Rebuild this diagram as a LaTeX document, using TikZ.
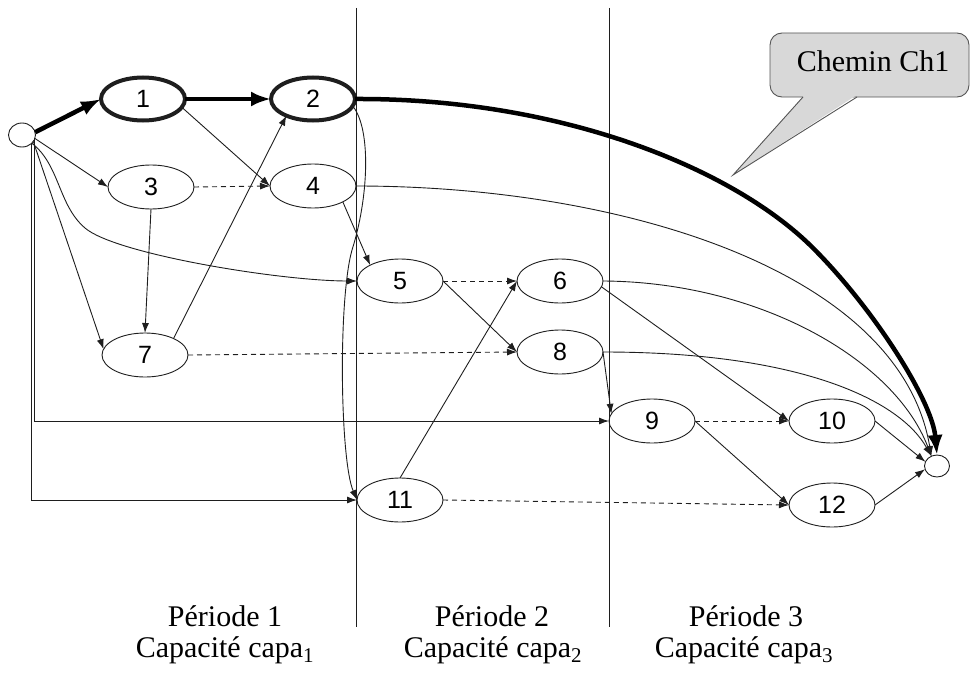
\documentclass[tikz,border=0pt]{standalone}
\usepackage{fontspec}
\setmainfont{Liberation Serif}
\newfontfamily\digitfont{Liberation Sans}
\usetikzlibrary{arrows.meta,shapes.geometric}
\definecolor{linec}{HTML}{1E1E1E}
\definecolor{callfill}{HTML}{D8D8D8}
\definecolor{callborder}{HTML}{555555}
\begin{document}
\begin{tikzpicture}[x=1pt,y=-1pt,
  every node/.style={inner sep=0pt, outer sep=0pt},
  ell/.style={draw=linec, ellipse, minimum width=86pt, minimum height=44pt, line width=0.9pt,
              font=\digitfont\fontsize{25}{25}\selectfont},
  thickell/.style={ell, line width=4pt, minimum width=84pt, minimum height=43pt},
  endpt/.style={draw=linec, ellipse, line width=0.9pt},
  arr/.style={draw=linec, line width=0.9pt, -{Latex[length=10pt,width=7pt]}},
  dsh/.style={arr, dash pattern=on 5pt off 4pt},
  thickarr/.style={draw=black, line width=4.5pt, -{Latex[length=20pt,width=15pt]}},
  lbl/.style={font=\fontsize{30}{36}\selectfont, anchor=base},
  sep/.style={draw=linec, line width=0.9pt}
]
\useasboundingbox (0,0) rectangle (972,677);

% period separators
\draw[sep] (356,8) -- (356,627);
\draw[sep] (609,8) -- (609,627);

% nodes
\node[endpt, minimum width=27pt, minimum height=24pt] (s) at (22,135) {};
\node[endpt, minimum width=25pt, minimum height=22pt] (t) at (937,466) {};
\node[thickell] (n1) at (143,99) {1};
\node[thickell] (n2) at (313,99) {2};
\node[ell] (n3) at (151,187) {3};
\node[ell] (n4) at (313,186) {4};
\node[ell] (n5) at (400,281) {5};
\node[ell] (n6) at (560,281) {6};
\node[ell] (n7) at (145,355) {7};
\node[ell] (n8) at (560,352) {8};
\node[ell] (n9) at (652,421) {9};
\node[ell] (n10) at (832,421) {10};
\node[ell] (n11) at (400,500) {11};
\node[ell] (n12) at (832,505) {12};

% connectors from the source
\draw[arr] (s.-15) -- (n3.west);
\draw[arr] (s.-30) -- (n7.172);
\draw[arr] (s.-40) .. controls (60,165) and (58,205) .. (85,228)
                   .. controls (115,254) and (280,281) .. (n5.west);
\draw[arr] (s.-15) |- (n9.west);
\draw[arr] (s.-45) |- (n11.west);

% period 1
\draw[arr] (n1.-12) -- (n4.west);
\draw[dsh] (n3.east) -- (n4.west);
\draw[arr] (n3.south) -- (n7.north);
\draw[arr] (n7.30) -- (n2.-148);
\draw[dsh] (n7.east) -- (n8.west);
\draw[arr] (n2.-10) .. controls (372,130) and (368,200) .. (352,250)
                    .. controls (338,300) and (340,460) .. (n11.west);
\draw[arr] (n4.-28) -- (n5.152);

% period 2
\draw[dsh] (n5.east) -- (n6.west);
\draw[arr] (n5.east) -- (n8.west);
\draw[arr] (n11.north) -- (n6.west);
\draw[dsh] (n11.east) -- (n12.west);

% period 3
\draw[arr] (n6.-8) -- (n10.west);
\draw[arr] (n8.east) -- (n9.170);
\draw[dsh] (n9.east) -- (n10.west);
\draw[arr] (n9.east) -- (n12.west);
\draw[arr] (n10.east) -- (t.160);
\draw[arr] (n12.east) -- (t.195);

% long arcs to the sink
\draw[arr] (n4.east) .. controls (620,186) and (900,270) .. (t.120);
\draw[arr] (n6.east) .. controls (760,282) and (895,360) .. (t.120);
\draw[arr] (n8.east) .. controls (800,352) and (900,400) .. (t.120);

% thick path Ch1
\draw[thickarr] (s.12) -- (n1.west);
\draw[thickarr] (n1.east) -- (n2.west);
\draw[thickarr] (n2.east) .. controls (560,98) and (733,168) .. (813,248)
                          .. controls (873,308) and (932,400) .. (t.north);

% callout
\draw[fill=callfill, draw=callborder, line width=0.9pt, rounded corners=12pt] (770,33) rectangle (969,97);
\fill[callfill] (804,95.5) -- (733,175) -- (856,95.5) -- cycle;
\draw[callborder, line width=0.9pt, line join=miter] (803,97) -- (733,175) -- (857,97);
\node[lbl] (ch) at (873,72) {Chemin Ch1};

% period labels
\node[lbl] (p1) at (225,626) {Période 1};
\node[lbl] (c1) at (225,657) {Capacité capa\textsubscript{1}};
\node[lbl] (p2) at (492,626) {Période 2};
\node[lbl] (c2) at (493,657) {Capacité capa\textsubscript{2}};
\node[lbl] (p3) at (746,626) {Période 3};
\node[lbl] (c3) at (744,657) {Capacité capa\textsubscript{3}};
\end{tikzpicture}
\end{document}
